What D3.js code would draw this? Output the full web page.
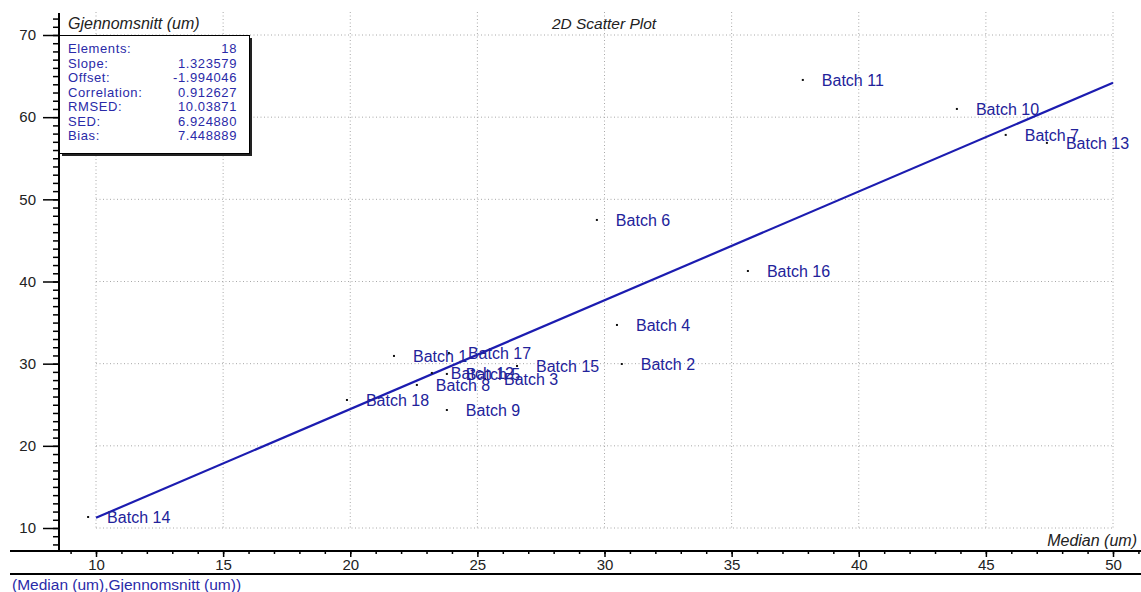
<!DOCTYPE html>
<html>
<head>
<meta charset="utf-8">
<script src="https://cdn.jsdelivr.net/npm/d3@7"></script>
<style>
  body { margin: 0; background: #fff; }
  svg { display: block; font-family: "Liberation Sans", Arial, sans-serif; }
  .grid line { stroke: #a8a8a8; stroke-dasharray: 1,2.5; }
  .axis path { display: none; }
  .axis line { stroke: #000; stroke-width: 1.5; }
  .axis text { font-size: 15px; fill: #222; }
  .lbl { font-size: 16px; fill: #22229a; }
  .stat { font-size: 13px; letter-spacing: 0.6px; fill: #2a2aa8; }
</style>
</head>
<body>
<div id="container"></div>
<script>
const width = 1141;
const height = 592;

// data
const batchNames = ["Batch 1","Batch 2","Batch 3","Batch 4","Batch 5","Batch 6","Batch 7","Batch 8","Batch 9",
  "Batch 10","Batch 11","Batch 12","Batch 13","Batch 14","Batch 15","Batch 16","Batch 17","Batch 18"];
const medianVals = [21.72, 30.68, 25.30, 30.49, 23.80, 29.70, 45.78, 22.62, 23.80,
  43.86, 37.80, 23.21, 47.40, 9.69, 26.56, 35.64, 23.88, 19.87];
const meanVals = [30.94, 29.96, 28.14, 34.71, 28.75, 47.49, 57.84, 27.41, 24.36,
  61.00, 64.53, 28.87, 56.87, 11.34, 29.72, 41.28, 31.30, 25.58];
const statLabels = ["Elements:", "Slope:", "Offset:", "Correlation:", "RMSED:", "SED:", "Bias:"];
const statValues = ["18", "1.323579", "-1.994046", "0.912627", "10.03871", "6.924880", "7.448889"];
const slope = 1.323579;
const offset = -1.994046;
const xTicks = [10, 15, 20, 25, 30, 35, 40, 45, 50];
const yTicks = [10, 20, 30, 40, 50, 60, 70];

const svg = d3.select("#container").append("svg")
  .attr("width", width).attr("height", height);

const xScale = d3.scaleLinear().domain([10, 50]).range([96, 1113]);
const yScale = d3.scaleLinear().domain([10, 70]).range([528, 35]);

const axisY = 551, axisX = 59;

//---------------- grid ----------------//
const grid = svg.append("g").attr("class", "grid");
grid.selectAll(".v").data(xTicks).enter().append("line")
  .attr("x1", d => xScale(d)).attr("x2", d => xScale(d))
  .attr("y1", 12).attr("y2", yScale(10));
grid.selectAll(".h").data(yTicks).enter().append("line")
  .attr("x1", xScale(10)).attr("x2", xScale(50))
  .attr("y1", d => yScale(d)).attr("y2", d => yScale(d));

//---------------- titles ----------------//
svg.append("text").attr("x", 604).attr("y", 29).attr("text-anchor", "middle")
  .style("font-size", "15.5px").style("font-style", "italic").style("fill", "#222")
  .text("2D Scatter Plot");
svg.append("text").attr("x", 68).attr("y", 29)
  .style("font-size", "16px").style("font-style", "italic").style("fill", "#222")
  .text("Gjennomsnitt (um)");
svg.append("text").attr("x", 1137).attr("y", 546).attr("text-anchor", "end")
  .style("font-size", "16px").style("font-style", "italic").style("fill", "#222")
  .text("Median (um)");
svg.append("text").attr("x", 12).attr("y", 590)
  .style("font-size", "15.5px").style("fill", "#2a2aa8")
  .text("(Median (um),Gjennomsnitt (um))");

//---------------- regression line ----------------//
const line = d3.line().x(d => xScale(d)).y(d => yScale(slope * d + offset));
svg.append("path").attr("d", line([10, 50]))
  .attr("fill", "none").attr("stroke", "#1c1cb0").attr("stroke-width", 2.2);

//---------------- points ----------------//
const pts = svg.append("g").selectAll("g").data(batchNames).enter().append("g")
  .attr("transform", (d, i) => "translate(" + xScale(medianVals[i]) + "," + yScale(meanVals[i]) + ")");
pts.append("rect").attr("x", -1).attr("y", -1).attr("width", 2).attr("height", 2).attr("fill", "#111");
pts.append("text").attr("class", "lbl").attr("x", 19).attr("dy", "0.36em").text(d => d);

//---------------- axes ----------------//
const yMinor = d3.axisLeft(yScale).tickValues(d3.range(8, 73)).tickSize(6).tickFormat("");
svg.append("g").attr("class", "axis").attr("transform", "translate(" + axisX + ",0)").call(yMinor);
const yMajor = d3.axisLeft(yScale).tickValues(yTicks).tickSize(16).tickPadding(7);
svg.append("g").attr("class", "axis").attr("transform", "translate(" + axisX + ",0)").call(yMajor);

const xMinor = d3.axisBottom(xScale).tickValues(d3.range(9, 52)).tickSize(3).tickFormat("");
svg.append("g").attr("class", "axis").attr("transform", "translate(0," + axisY + ")").call(xMinor);
const xMajor = d3.axisBottom(xScale).tickValues(xTicks).tickSize(6).tickPadding(2);
svg.append("g").attr("class", "axis").attr("transform", "translate(0," + axisY + ")").call(xMajor);

svg.append("line").attr("x1", axisX).attr("x2", axisX).attr("y1", 13).attr("y2", axisY)
  .attr("stroke", "#000").attr("stroke-width", 2);
svg.append("line").attr("x1", 10).attr("x2", width).attr("y1", axisY).attr("y2", axisY)
  .attr("stroke", "#000").attr("stroke-width", 2);
svg.append("line").attr("x1", 10).attr("x2", width).attr("y1", 574).attr("y2", 574)
  .attr("stroke", "#000").attr("stroke-width", 2);

//---------------- stats box ----------------//
const box = svg.append("g");
box.append("rect").attr("x", 62).attr("y", 38).attr("width", 190).attr("height", 118).attr("fill", "#222");
box.append("rect").attr("x", 59.5).attr("y", 35.5).attr("width", 190).attr("height", 118)
  .attr("fill", "#fff").attr("stroke", "#000").attr("stroke-width", 1);
box.selectAll(".sl").data(statLabels).enter().append("text").attr("class", "stat")
  .attr("x", 68).attr("y", (d, i) => 53 + i * 14.5).text(d => d);
box.selectAll(".sv").data(statValues).enter().append("text").attr("class", "stat")
  .attr("x", 237).attr("y", (d, i) => 53 + i * 14.5).attr("text-anchor", "end").text(d => d);
</script>
</body>
</html>
